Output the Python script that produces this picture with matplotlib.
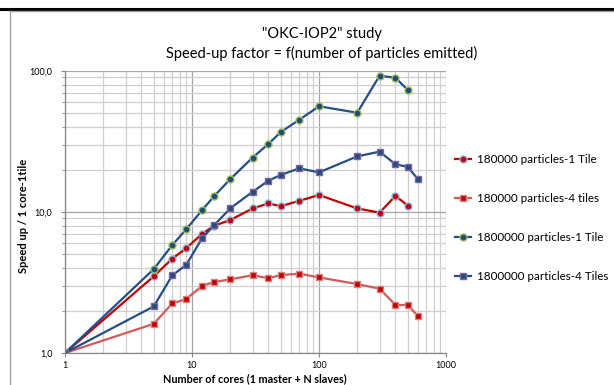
import matplotlib.pyplot as plt
from matplotlib.lines import Line2D
from matplotlib.ticker import FixedLocator, LogLocator, NullFormatter

plt.rcParams['font.family'] = ['Lato', 'DejaVu Sans']

# number of cores
cores = [1, 5, 7, 9, 12, 15, 20, 30, 40, 50, 70, 100, 200, 300, 400, 500]
cores_600 = cores + [600]

# speed-up values
s180k_1tile = [1.0, 3.5, 4.67, 5.53, 7.0, 8.0, 8.77, 10.6, 11.5, 11.0, 12.0,
               13.2, 10.6, 9.9, 13.0, 11.1]
s180k_4tiles = [1.0, 1.61, 2.25, 2.41, 2.99, 3.19, 3.33, 3.56, 3.39, 3.57, 3.65,
                3.44, 3.08, 2.86, 2.19, 2.19, 1.83]
s1800k_1tile = [1.0, 3.94, 5.83, 7.54, 10.3, 13.0, 17.1, 24.3, 30.4, 36.9, 45.1,
                56.2, 50.6, 92.6, 89.6, 73.3]
s1800k_4tiles = [1.0, 2.14, 3.56, 4.21, 6.51, 8.09, 10.6, 13.9, 16.7, 18.3, 20.4,
                 19.1, 24.8, 26.8, 21.8, 20.9, 17.1]

labels = ['180000 particles-1 Tile', '180000 particles-4 tiles',
          '1800000 particles-1 Tile', '1800000 particles-4 Tiles']

fig = plt.figure(figsize=(6.14, 3.85), dpi=100)
ax = fig.add_axes([65 / 614, 1 - 353 / 385, 381 / 614, 282 / 385])

ax.plot(cores, s180k_1tile, color='#C00000', lw=1.6, marker='o', ms=5,
        mfc='#C00000', mec='#8DB3E2', mew=1, label=labels[0])
ax.plot(cores_600, s180k_4tiles, color='#D25A5A', lw=1.6, marker='s', ms=5,
        mfc='#C00000', mec='#D98080', mew=1, label=labels[1])
ax.plot(cores, s1800k_1tile, color='#254E86', lw=1.6, marker='o', ms=5,
        mfc='#1F4E79', mec='#9BBB59', mew=1, label=labels[2])
ax.plot(cores_600, s1800k_4tiles, color='#254E86', lw=1.6, marker='s', ms=5,
        mfc='#1F4E79', mec='#8064A2', mew=1, label=labels[3])

ax.set_xscale('log')
ax.set_yscale('log')
ax.set_xlim(1, 1000)
ax.set_ylim(1, 100)

ax.xaxis.set_major_locator(FixedLocator([1, 10, 100, 1000]))
ax.set_xticklabels(['1', '10', '100', '1000'])
ax.yaxis.set_major_locator(FixedLocator([1, 10, 100]))
ax.set_yticklabels(['1,0', '10,0', '100,0'])
ax.xaxis.set_minor_locator(LogLocator(base=10, subs=range(2, 10)))
ax.yaxis.set_minor_locator(LogLocator(base=10, subs=range(2, 10)))
ax.xaxis.set_minor_formatter(NullFormatter())
ax.yaxis.set_minor_formatter(NullFormatter())

ax.grid(which='major', color='#A6A6A6', lw=0.9)
ax.grid(which='minor', color='#CFCFCF', lw=0.9)
ax.set_axisbelow(True)

for side in ['top', 'right']:
    ax.spines[side].set_visible(False)
for side in ['left', 'bottom']:
    ax.spines[side].set_color('#868686')
    ax.spines[side].set_linewidth(0.9)

ax.tick_params(axis='y', which='major', labelsize=6.5, length=3,
               color='#868686', pad=6)
ax.tick_params(axis='x', which='major', labelsize=6.5, length=3,
               color='#868686', pad=3)
ax.tick_params(axis='y', which='minor', length=2, color='#868686')
ax.tick_params(axis='x', which='minor', length=0)

# axis titles placed as in the screenshot
fig.text(255 / 614, 1 - 379 / 385, 'Number of cores (1 master + N slaves)',
         ha='center', va='center', fontsize=7.8, fontweight='bold')
fig.text(24 / 614, 1 - 216 / 385, 'Speed up / 1 core-1tile', rotation=90,
         ha='center', va='center', fontsize=8, fontweight='bold')

fig.text(322 / 614, 1 - 44 / 385,
         '"OKC-IOP2" study\nSpeed-up factor = f(number of particles emitted)',
         ha='center', va='center', fontsize=10.5, linespacing=1.35)

fig.legend(loc='center left', bbox_to_anchor=(455 / 614, 1 - 218 / 385),
           frameon=False, fontsize=8.4, labelspacing=2.4, handlelength=1.4,
           handletextpad=0.5, borderpad=0, borderaxespad=0)

# chart frame as in the screenshot
fig.add_artist(Line2D([0, 1], [1 - 9 / 385, 1 - 9 / 385], color='black',
                      lw=2.2, transform=fig.transFigure))
fig.add_artist(Line2D([9.5 / 614, 1], [1 - 11 / 385, 1 - 11 / 385],
                      color='#A0A0A0', lw=1, transform=fig.transFigure))
fig.add_artist(Line2D([9.5 / 614, 9.5 / 614], [0, 1 - 11 / 385],
                      color='#A0A0A0', lw=1, transform=fig.transFigure))

fig.savefig('out.png', dpi=100)
